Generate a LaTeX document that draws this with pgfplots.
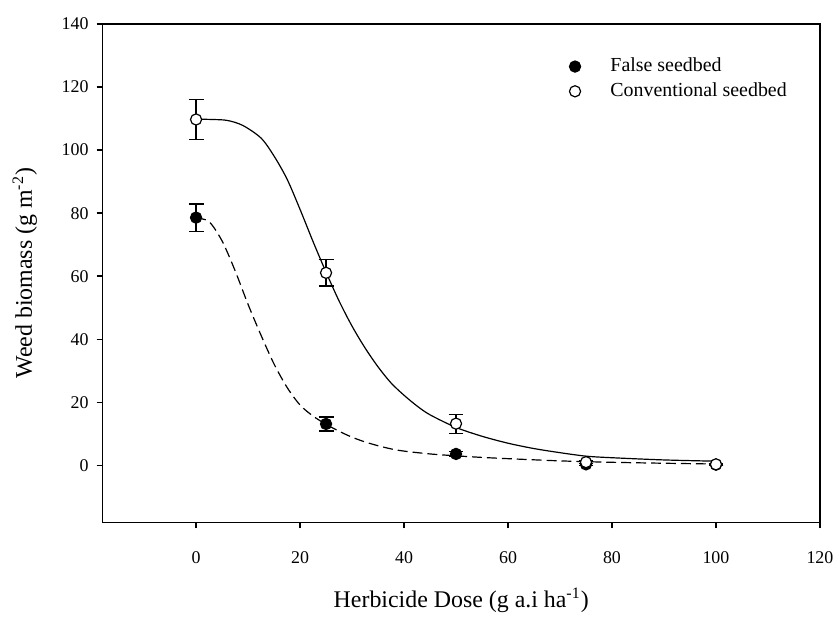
\documentclass[border=0pt]{standalone}
\usepackage{fontspec}
\setmainfont{Liberation Serif}
\usepackage{pgfplots}
\pgfplotsset{compat=1.18}

\pgfplotstableread{
x y e
0 78.6 4.3
25 13.2 2.2
50 3.7 0.8
75 0.4 0.3
100 0.3 0.2
}\falsebed

\pgfplotstableread{
x y e
0 109.7 6.4
25 61.1 4.2
50 13.3 3.0
75 1.1 0.5
100 0.4 0.3
}\convbed

\begin{document}
\begin{tikzpicture}
\begin{axis}[
    name=ax,
    scale only axis,
    width=360.5pt, height=250.5pt,
    xmin=-18, xmax=120,
    ymin=-18, ymax=140,
    xtick={0,20,...,120},
    ytick={0,20,...,140},
    tick align=outside,
    tick pos=left,
    major tick length=3pt,
    axis line style={line width=0.8pt},
    tick style={line width=0.8pt, black},
    ticklabel style={font=\fontsize{9}{10}\selectfont},
    /pgf/number format/assume math mode=true,
    xticklabel style={anchor=center},
    xticklabel shift=14.5pt,
    yticklabel style={anchor=east},
    yticklabel shift=0.5pt,
    xlabel={Herbicide Dose (g a.i ha\textsuperscript{-1})},
    ylabel={Weed biomass (g m\textsuperscript{-2})},
    label style={font=\fontsize{12}{14}\selectfont},
    xlabel style={at={(axis description cs:0.5,0)}, anchor=center, yshift=-39pt},
    ylabel style={at={(axis description cs:0,0.5)}, anchor=center, yshift=39pt},
    legend style={draw=none, fill=none, font=\fontsize{10}{12}\selectfont,
        at={(axis description cs:0.642,0.948)}, anchor=north west,
        column sep=13pt},
    legend cell align=left,
]
% fitted curves
\addplot[black, line width=0.6pt, dash pattern=on 5pt off 2.5pt, smooth, forget plot]
  coordinates {(0,78.5)(2.5,77.3)(5,71.2)(7.5,61.8)(10,51.1)(12.5,41.3)(15,32.2)
  (17.5,24.8)(20,19.2)(22.5,15.7)(25,13.1)(27.5,10.9)(30,9)(32.5,7.5)(35,6.3)
  (37.5,5.3)(40,4.6)(45,3.7)(50,3.1)(55,2.6)(60,2.2)(70,1.5)(80,1.05)(90,0.75)(100,0.5)};
\addplot[black, line width=0.6pt, smooth, forget plot]
  coordinates {(0,109.8)(3,109.7)(6,109.4)(9,107.8)(12.5,103.8)(15,98.1)(17.5,90.8)(20,81.2)
  (22.5,71)(25,61.3)(27.5,52.2)(30,44.2)(32.5,37.3)(35,31.3)(37.5,26.2)(40,22.3)
  (42.5,18.9)(45,16.1)(50,12.1)(55,9.3)(60,7.1)(65,5.4)(70,4.1)(75,3.0)
  (80,2.5)(90,1.8)(100,1.4)};
% observed means
\addplot[black, only marks, mark=*, mark size=2.8pt, line width=0.6pt,
    error bars/.cd, y dir=both, y explicit,
    error bar style={line width=0.6pt},
    error mark options={rotate=90, mark size=3.75pt, line width=0.6pt}]
  table[x=x, y=y, y error=e] {\falsebed};
\addlegendentry{False seedbed}
\addplot[black, only marks, mark=*, mark size=2.8pt, line width=0.6pt,
    mark options={fill=white},
    error bars/.cd, y dir=both, y explicit,
    error bar style={line width=0.6pt},
    error mark options={rotate=90, mark size=3.75pt, line width=0.6pt}]
  table[x=x, y=y, y error=e] {\convbed};
\addlegendentry{Conventional seedbed}
\end{axis}
\draw[black, line width=0.8pt] (ax.south west) rectangle (ax.north east);
\path (ax.south west) ++(-51.5pt,-43.5pt) coordinate (bl);
\path (ax.north east) ++(8pt,12pt) coordinate (tr);
\path (bl) rectangle (tr);
\end{tikzpicture}
\end{document}
